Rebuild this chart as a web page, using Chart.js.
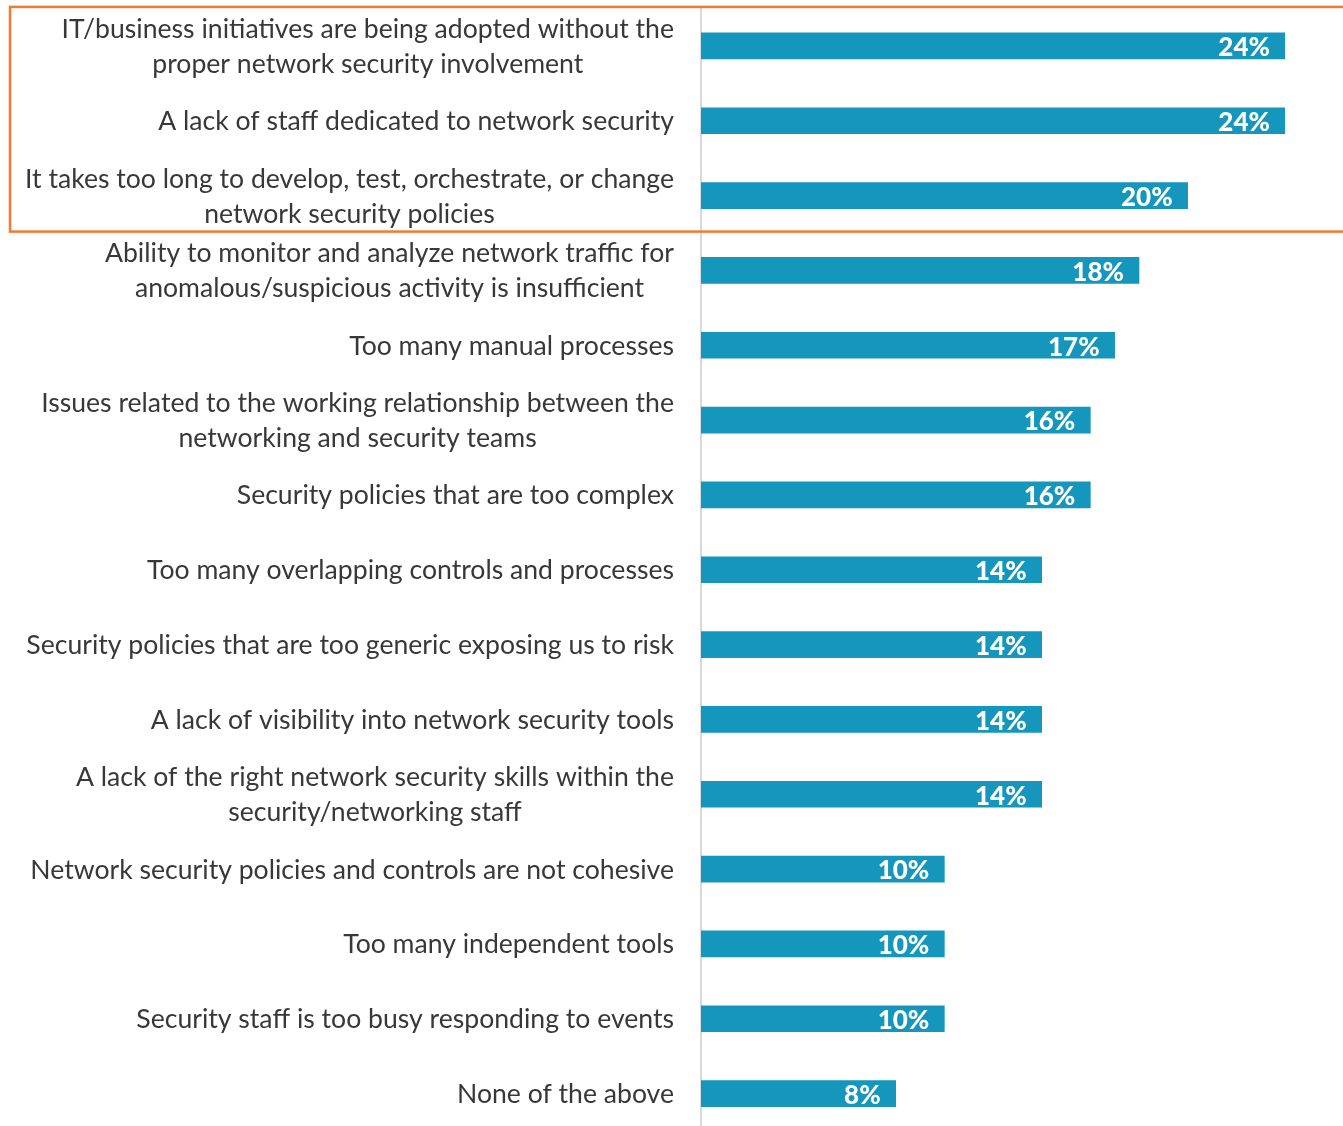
<!DOCTYPE html>
<html><head><meta charset="utf-8">
<script src="https://cdn.jsdelivr.net/npm/chart.js@4"></script>
<style>html,body{margin:0;padding:0;background:#fff;overflow:hidden;}#wrap{width:1343px;height:1131px;position:relative;}</style>
</head><body><div id="wrap"><canvas id="c" width="1343" height="1131"></canvas></div>
<script>
const categories = [
  ["IT/business initiatives are being adopted without the","proper network security involvement"],
  ["A lack of staff dedicated to network security"],
  ["It takes too long to develop, test, orchestrate, or change","network security policies"],
  ["Ability to monitor and analyze network traffic for","anomalous/suspicious activity is insufficient"],
  ["Too many manual processes"],
  ["Issues related to the working relationship between the","networking and security teams"],
  ["Security policies that are too complex"],
  ["Too many overlapping controls and processes"],
  ["Security policies that are too generic exposing us to risk"],
  ["A lack of visibility into network security tools"],
  ["A lack of the right network security skills within the","security/networking staff"],
  ["Network security policies and controls are not cohesive"],
  ["Too many independent tools"],
  ["Security staff is too busy responding to events"],
  ["None of the above"]
];
const values = [24,24,20,18,17,16,16,14,14,14,14,10,10,10,8];
const highlighted = [0,1,2];

const FONT = "Lato";
const labelPlugin = {
  id:'labels',
  afterDatasetsDraw(chart){
    const ctx = chart.ctx;
    const y = chart.scales.y;
    const area = chart.chartArea;
    ctx.save();
    // category labels
    ctx.font = "26.6px " + FONT;
    ctx.fillStyle = "#383838";
    ctx.textBaseline = "middle";
    ctx.textAlign = "center";
    categories.forEach((lines,i)=>{
      const cy = y.getPixelForValue(i);
      const w = Math.max(...lines.map(l=>ctx.measureText(l).width));
      const right = area.left - 27;
      const cx = right - w/2;
      const lh = 35;
      lines.forEach((l,j)=>{
        ctx.fillText(l, cx, cy + 1 + (j - (lines.length-1)/2)*lh);
      });
    });
    // value labels
    ctx.font = "900 26px " + FONT;
    ctx.fillStyle = "#ffffff";
    ctx.textAlign = "right";
    const meta = chart.getDatasetMeta(0);
    meta.data.forEach((bar,i)=>{
      ctx.fillText(values[i] + "%", bar.x - 15, bar.y + 2);
    });
    // highlight box
    const top = y.getPixelForValue(highlighted[0]) - 39;
    const bot = y.getPixelForValue(highlighted[highlighted.length-1]) + 36;
    ctx.strokeStyle = "#F37A2C";
    ctx.lineWidth = 2.5;
    ctx.strokeRect(10, top, chart.width + 10, bot - top);
    ctx.restore();
  }
};

new Chart(document.getElementById('c'), {
  type:'bar',
  data:{labels:categories.map(c=>c.join(' ')), datasets:[{data:values, backgroundColor:'#1596BD', barThickness:26}]},
  options:{
    indexAxis:'y', responsive:false, animation:false,
    layout:{padding:{left:701, right:58, top:8.5, bottom:0}},
    plugins:{legend:{display:false}, tooltip:{enabled:false}},
    scales:{
      x:{display:false, min:0, max:24},
      y:{ticks:{display:false}, grid:{display:false, drawTicks:false}, border:{display:true,color:'#d9d9d9',width:2}}
    }
  },
  plugins:[labelPlugin]
});
</script></body></html>
